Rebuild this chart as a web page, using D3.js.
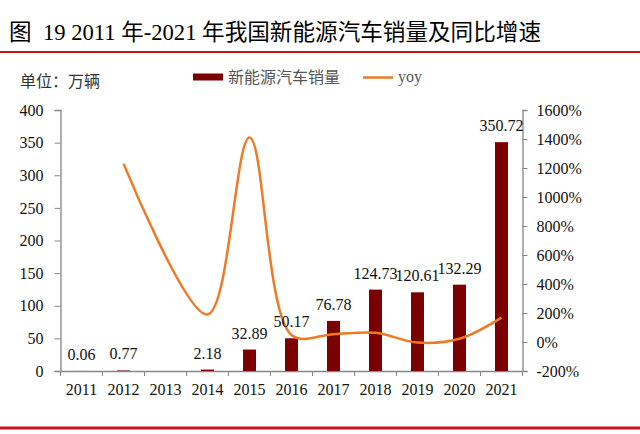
<!DOCTYPE html>
<html>
<head>
<meta charset="utf-8">
<script src="https://cdn.jsdelivr.net/npm/d3@7"></script>
<style>
  body { margin: 0; background: #fff; }
  svg text { font-family: "Liberation Serif", "Times New Roman", "DejaVu Serif", "Noto Sans CJK SC", serif; }
</style>
</head>
<body>
<div id="grafica"></div>
<script>
// Datos
var years = ['2011', '2012', '2013', '2014', '2015', '2016', '2017', '2018', '2019', '2020', '2021'];
var sales = [0.06, 0.77, null, 2.18, 32.89, 50.17, 76.78, 124.73, 120.61, 132.29, 350.72];
var yoy = [null, 1230, null, 190, 1410, 48, 54, 64, -4, 22, 168];
var leftTicks = [0, 50, 100, 150, 200, 250, 300, 350, 400];
var rightTicks = [-200, 0, 200, 400, 600, 800, 1000, 1200, 1400, 1600];

var W = 640, H = 434;
var serif = '"Liberation Serif", "Times New Roman", "DejaVu Serif", "Noto Sans CJK SC", serif';
var svg = d3.select("#grafica").append("svg")
  .attr("width", W)
  .attr("height", H);

// Titulo y lineas rojas
svg.append("text")
  .attr("x", 9)
  .attr("y", 40)
  .attr("font-size", 22.6)
  .attr("fill", "#000")
  .attr("font-family", serif)
  .style("white-space", "pre")
  .text("图  19 2011 年-2021 年我国新能源汽车销量及同比增速");

svg.append("line")
  .attr("x1", 0).attr("x2", W)
  .attr("y1", 52).attr("y2", 52)
  .attr("stroke", "#c8161d")
  .attr("stroke-width", 2);

svg.append("line")
  .attr("x1", 0).attr("x2", W)
  .attr("y1", 428).attr("y2", 428)
  .attr("stroke", "#c8161d")
  .attr("stroke-width", 3);

svg.append("text")
  .attr("x", 20)
  .attr("y", 87)
  .attr("font-size", 16)
  .attr("fill", "#333")
  .attr("font-family", serif)
  .text("单位：万辆");

// Escalas
var x = d3.scaleBand().domain(years).range([60.5, 522.5]).padding(0);
var yL = d3.scaleLinear().domain([0, 400]).range([371, 110]);
var yR = d3.scaleLinear().domain([-200, 1600]).range([371, 110]);

var axisColor = "#868686";

// Eje izquierdo
var gL = svg.append("g")
  .attr("transform", "translate(60.5,0)")
  .call(d3.axisLeft(yL).tickValues(leftTicks).tickSize(6).tickPadding(11));

// Eje derecho
var gR = svg.append("g")
  .attr("transform", "translate(522.5,0)")
  .call(d3.axisRight(yR).tickValues(rightTicks).tickSize(5).tickPadding(9)
    .tickFormat(function(d) { return d + "%"; }));

// Eje X con marcas entre categorias
var gX = svg.append("g")
  .attr("transform", "translate(0,371)")
  .call(d3.axisBottom(x).tickSize(0).tickPadding(13));

gX.selectAll(".tickmark")
  .data(d3.range(years.length + 1))
  .enter().append("line")
  .attr("x1", function(i) { return 60.5 + i * x.step(); })
  .attr("x2", function(i) { return 60.5 + i * x.step(); })
  .attr("y1", 0).attr("y2", 5)
  .attr("stroke", axisColor);

[gL, gR, gX].forEach(function(g) {
  g.attr("font-family", serif);
  g.select(".domain").attr("stroke", axisColor).attr("stroke-width", 1.3);
  g.selectAll(".tick line").attr("stroke", axisColor);
  g.selectAll(".tick text")
    .attr("font-size", 16)
    .attr("fill", "#111")
    .attr("font-family", serif);
});

// Barras
var barW = 13;
var barData = years.map(function(y, i) { return { year: y, v: sales[i] }; })
  .filter(function(d) { return d.v !== null; });

svg.append("g").selectAll("rect")
  .data(barData)
  .enter().append("rect")
  .attr("x", function(d) { return x(d.year) + x.bandwidth() / 2 - barW / 2; })
  .attr("y", function(d) { return yL(d.v); })
  .attr("width", barW)
  .attr("height", function(d) { return yL(0) - yL(d.v); })
  .attr("fill", "#7b0000");

// Linea yoy suavizada
var lineData = years.map(function(y, i) { return { year: y, v: yoy[i] }; })
  .filter(function(d) { return d.v !== null; });

var line = d3.line()
  .x(function(d) { return x(d.year) + x.bandwidth() / 2; })
  .y(function(d) { return yR(d.v); })
  .curve(d3.curveCatmullRom.alpha(0.5));

svg.append("path")
  .datum(lineData)
  .attr("d", line)
  .attr("fill", "none")
  .attr("stroke", "#ee7a26")
  .attr("stroke-width", 2.5);

// Etiquetas de valores
svg.append("g").selectAll("text")
  .data(barData)
  .enter().append("text")
  .attr("x", function(d) { return x(d.year) + x.bandwidth() / 2; })
  .attr("y", function(d) { return yL(d.v) - 11; })
  .attr("text-anchor", "middle")
  .attr("font-size", 16)
  .attr("fill", "#111")
  .attr("font-family", serif)
  .text(function(d) { return d3.format(".2f")(d.v); });

// Leyenda
var leg = svg.append("g").attr("font-family", serif);
leg.append("rect")
  .attr("x", 193).attr("y", 73.5)
  .attr("width", 30).attr("height", 7)
  .attr("fill", "#7b0000");
leg.append("text")
  .attr("x", 228).attr("y", 83)
  .attr("font-size", 16)
  .attr("fill", "#555")
  .text("新能源汽车销量");
leg.append("line")
  .attr("x1", 363).attr("x2", 393)
  .attr("y1", 77.5).attr("y2", 77.5)
  .attr("stroke", "#ee7a26")
  .attr("stroke-width", 2.5);
leg.append("text")
  .attr("x", 398).attr("y", 82)
  .attr("font-size", 16)
  .attr("fill", "#555")
  .text("yoy");
</script>
</body>
</html>
